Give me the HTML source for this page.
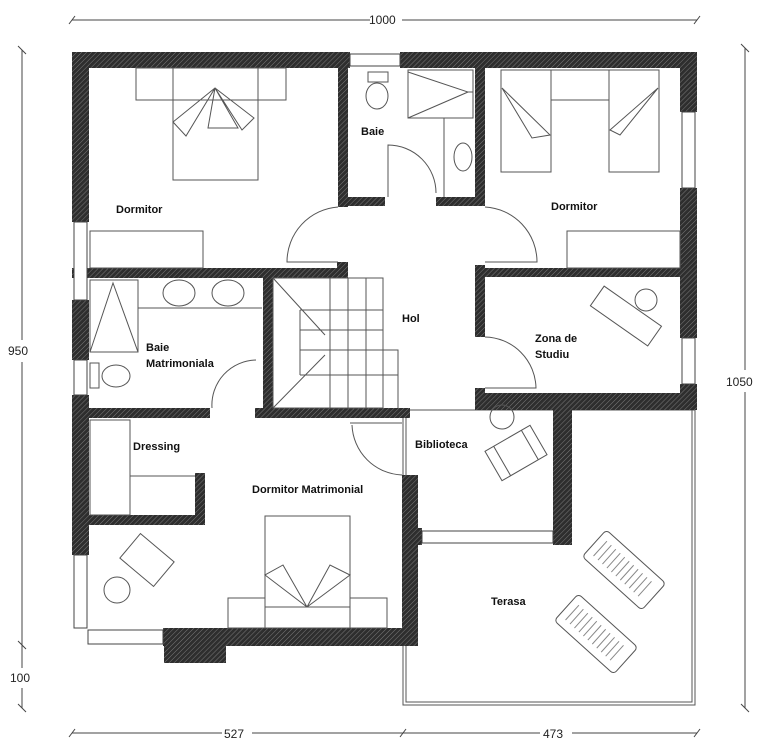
<!DOCTYPE html>
<html><head><meta charset="utf-8"><style>
html,body{margin:0;padding:0;background:#fff}
svg{display:block}
text{font-family:"Liberation Sans",sans-serif;font-weight:bold;font-size:11px;fill:#111}
.d{font-weight:normal;font-size:12px;fill:#222}
</style></head><body>
<svg width="759" height="750" viewBox="0 0 759 750" xmlns="http://www.w3.org/2000/svg">
<defs>
<pattern id="h" width="3.5" height="3.5" patternUnits="userSpaceOnUse" patternTransform="rotate(45)">
<rect width="3.5" height="3.5" fill="#2e2e2e"/><line x1="0" y1="0" x2="0" y2="3.5" stroke="#9a9a9a" stroke-width="0.7"/>
</pattern>
</defs>
<g stroke="#444" stroke-width="1" fill="none">
<line x1="72" y1="20" x2="370" y2="20"/><line x1="402" y1="20" x2="697" y2="20"/>
<line x1="69" y1="24" x2="75" y2="16"/><line x1="694" y1="24" x2="700" y2="16"/>
<line x1="22" y1="50" x2="22" y2="340"/><line x1="22" y1="362" x2="22" y2="668"/><line x1="22" y1="688" x2="22" y2="708"/>
<line x1="18" y1="46" x2="26" y2="54"/><line x1="18" y1="641" x2="26" y2="649"/><line x1="18" y1="704" x2="26" y2="712"/>
<line x1="745" y1="48" x2="745" y2="370"/><line x1="745" y1="392" x2="745" y2="708"/>
<line x1="741" y1="44" x2="749" y2="52"/><line x1="741" y1="704" x2="749" y2="712"/>
<line x1="72" y1="733" x2="222" y2="733"/><line x1="252" y1="733" x2="540" y2="733"/><line x1="572" y1="733" x2="697" y2="733"/>
<line x1="69" y1="737" x2="75" y2="729"/><line x1="400" y1="737" x2="406" y2="729"/><line x1="694" y1="737" x2="700" y2="729"/>
</g>
<text class="d" x="369" y="24">1000</text>
<text class="d" x="8" y="355">950</text>
<text class="d" x="10" y="682">100</text>
<text class="d" x="726" y="386">1050</text>
<text class="d" x="224" y="738">527</text>
<text class="d" x="543" y="738">473</text>
<g fill="none" stroke="#555" stroke-width="1">
<rect x="403" y="410" width="292" height="295"/>
<rect x="406" y="410" width="286" height="292"/>
</g>
<g fill="url(#h)">
<rect x="72" y="52" width="278" height="16"/><rect x="400" y="52" width="297" height="16"/>
<rect x="72" y="52" width="17" height="170"/><rect x="72" y="300" width="17" height="60"/><rect x="72" y="395" width="17" height="160"/>
<rect x="680" y="52" width="17" height="60"/><rect x="680" y="188" width="17" height="150"/><rect x="680" y="384" width="17" height="26"/>
<rect x="338" y="52" width="10" height="155"/><rect x="338" y="197" width="47" height="9"/><rect x="436" y="197" width="49" height="9"/>
<rect x="475" y="52" width="10" height="154"/>
<rect x="72" y="268" width="275" height="10"/><rect x="337" y="262" width="11" height="16"/>
<rect x="475" y="265" width="10" height="72"/><rect x="475" y="268" width="222" height="9"/>
<rect x="475" y="388" width="10" height="22"/><rect x="475" y="393" width="222" height="17"/>
<rect x="553" y="393" width="19" height="152"/>
<rect x="263" y="278" width="10" height="132"/><rect x="255" y="408" width="155" height="10"/>
<rect x="72" y="408" width="138" height="10"/>
<rect x="402" y="475" width="16" height="171"/><rect x="402" y="528" width="20" height="17"/>
<rect x="88" y="515" width="117" height="10"/><rect x="195" y="473" width="10" height="52"/>
<rect x="163" y="628" width="255" height="18"/><rect x="164" y="646" width="62" height="17"/>
</g>
<g fill="#fff" stroke="#444" stroke-width="1">
<rect x="350" y="54" width="50" height="12"/><rect x="74" y="222" width="13" height="78"/>
<rect x="74" y="360" width="13" height="35"/><rect x="74" y="555" width="13" height="73"/>
<rect x="88" y="630" width="75" height="14"/><rect x="682" y="112" width="13" height="76"/>
<rect x="682" y="338" width="13" height="46"/><rect x="422" y="531" width="131" height="12"/>
</g>
<g fill="none" stroke="#555" stroke-width="1">
<rect x="136" y="68" width="150" height="32"/><rect x="173" y="68" width="85" height="112"/>
<path d="M215 88 L173 122 L186 136 L215 88 L208 128 L238 128 Z M215 88 L254 118 L242 130 L215 88"/>
<rect x="90" y="231" width="113" height="37"/>
<ellipse cx="377" cy="96" rx="11" ry="13"/><rect x="368" y="72" width="20" height="10"/>
<rect x="408" y="70" width="65" height="48"/><path d="M408 118 L468 92 L408 72 M468 92 L473 92"/>
<ellipse cx="463" cy="157" rx="9" ry="14"/><line x1="444" y1="118" x2="444" y2="197"/>
<path d="M388 197 L388 145 A48 48 0 0 1 436 193"/>
<rect x="501" y="70" width="50" height="102"/><rect x="609" y="70" width="50" height="102"/>
<rect x="551" y="70" width="58" height="30"/>
<path d="M502 88 L532 138 L550 135 Z M658 88 L620 135 L610 130 Z"/>
<rect x="567" y="231" width="113" height="37"/>
<path d="M485 207 A55 55 0 0 1 537 262 L485 262"/>
<path d="M338 207 A55 55 0 0 0 287 262 L338 262"/>
<g transform="rotate(35 627 318)"><rect x="590" y="305" width="70" height="24"/></g>
<circle cx="646" cy="300" r="11"/>
<path d="M485 337 A52 52 0 0 1 536 388 L485 388"/>
<rect x="90" y="280" width="48" height="72"/><path d="M90 352 L113 283 L138 352"/>
<line x1="138" y1="308" x2="262" y2="308"/>
<ellipse cx="179" cy="293" rx="16" ry="13"/><ellipse cx="228" cy="293" rx="16" ry="13"/>
<rect x="90" y="363" width="9" height="25"/><ellipse cx="116" cy="376" rx="14" ry="11"/>
<path d="M212 408 A45 45 0 0 1 256 360"/>
<rect x="273" y="278" width="110" height="130"/>
<path d="M383 350 L398 350 L398 408 M273 278 L325 335 M273 408 L325 355 M300 310 L383 310 M300 330 L383 330 M300 350 L383 350 M300 375 L398 375 M330 278 L330 408 M348 278 L348 408 M366 278 L366 408 M300 310 L300 375"/>
<path d="M352 425 A52 52 0 0 0 402 475"/><line x1="350" y1="423" x2="402" y2="423"/>
<circle cx="502" cy="417" r="12"/>
<g transform="rotate(-30 516 453)"><rect x="490" y="436" width="52" height="34"/><line x1="500" y1="436" x2="500" y2="470"/><line x1="532" y1="436" x2="532" y2="470"/></g>
<rect x="90" y="420" width="40" height="95"/><line x1="130" y1="476" x2="195" y2="476"/>
<rect x="265" y="516" width="85" height="112"/><line x1="265" y1="607" x2="350" y2="607"/>
<path d="M307 607 L265 575 L283 565 Z M307 607 L330 565 L350 575 Z"/>
<rect x="228" y="598" width="37" height="30"/><rect x="350" y="598" width="37" height="30"/>
<g transform="rotate(40 147 560)"><rect x="125" y="544" width="44" height="32"/></g>
<circle cx="117" cy="590" r="13"/>
<g transform="rotate(42 624 570)"><rect x="584" y="552" width="80" height="36" rx="4"/><path d="M592 560 L592 580 M598 560 L598 580 M604 560 L604 580 M610 560 L610 580 M616 560 L616 580 M622 560 L622 580 M628 560 L628 580 M634 560 L634 580 M640 560 L640 580 M646 560 L646 580 M652 560 L652 580" stroke="#888"/></g>
<g transform="rotate(42 596 634)"><rect x="556" y="616" width="80" height="36" rx="4"/><path d="M564 624 L564 644 M570 624 L570 644 M576 624 L576 644 M582 624 L582 644 M588 624 L588 644 M594 624 L594 644 M600 624 L600 644 M606 624 L606 644 M612 624 L612 644 M618 624 L618 644 M624 624 L624 644" stroke="#888"/></g>
</g>
<text x="116" y="213">Dormitor</text>
<text x="361" y="135">Baie</text>
<text x="551" y="210">Dormitor</text>
<text x="402" y="322">Hol</text>
<text x="535" y="342">Zona de</text>
<text x="535" y="358">Studiu</text>
<text x="146" y="351">Baie</text>
<text x="146" y="367">Matrimoniala</text>
<text x="133" y="450">Dressing</text>
<text x="415" y="448">Biblioteca</text>
<text x="252" y="493">Dormitor Matrimonial</text>
<text x="491" y="605">Terasa</text>
</svg>
</body></html>
